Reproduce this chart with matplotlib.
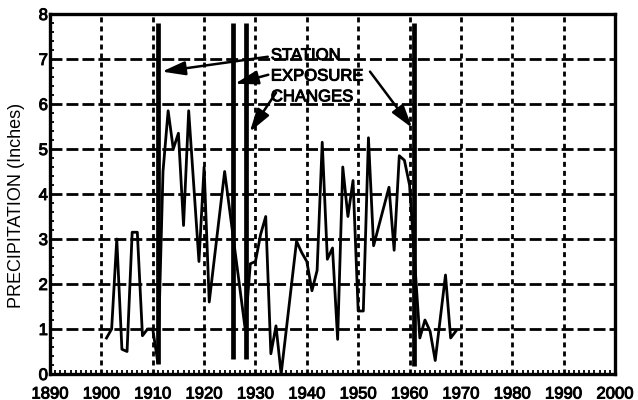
import matplotlib
matplotlib.use("Agg")
import matplotlib.pyplot as plt
import matplotlib.patheffects as pe
from matplotlib.ticker import MultipleLocator

plt.rcParams["font.family"] = ["Liberation Sans", "DejaVu Sans"]
plt.rcParams["lines.scale_dashes"] = False

# Annual precipitation record (inches)
years = [1901, 1902, 1903, 1904, 1905, 1906, 1907, 1908, 1909, 1910,
         1911, 1912, 1913, 1914, 1915, 1916, 1917, 1919, 1920, 1921,
         1924, 1928, 1929, 1930, 1931, 1932, 1933, 1934, 1935, 1938,
         1939, 1940, 1941, 1942, 1943, 1944, 1945, 1946, 1947, 1948,
         1949, 1950, 1951, 1952, 1953, 1956, 1957, 1958, 1959, 1960,
         1962, 1963, 1964, 1965, 1967, 1968, 1969]
precip = [0.8, 1.0, 3.0, 0.55, 0.5, 3.15, 3.15, 0.85, 1.0, 1.0,
          0.25, 4.5, 5.85, 5.0, 5.35, 3.3, 5.85, 2.5, 4.6, 1.6,
          4.5, 1.0, 2.45, 2.5, 3.1, 3.5, 0.45, 1.07, 0.0, 2.95,
          2.7, 2.5, 1.85, 2.3, 5.15, 2.55, 2.8, 0.77, 4.6, 3.5,
          4.3, 1.4, 1.4, 5.25, 2.85, 4.15, 2.75, 4.85, 4.75, 4.2,
          0.8, 1.2, 0.95, 0.3, 2.2, 0.8, 0.95]

# Station exposure changes
change_years = [1911.1, 1925.6, 1928.2, 1960.8]
change_bottoms = [0.22, 0.33, 0.33, 0.18]
change_top = 7.8

label_lines = ["STATION", "EXPOSURE", "CHANGES"]
arrow_tails = [(1932.4, 7.05), (1932.5, 6.65), (1934.0, 6.25), (1952.3, 6.72)]
arrow_tips = [(1911.8, 6.72), (1926.0, 6.45), (1928.9, 5.38), (1960.5, 5.47)]

x_ticks = list(range(1890, 2001, 10))
y_ticks = list(range(0, 9))

ink = [pe.withStroke(linewidth=0.7, foreground="black")]

fig = plt.figure(figsize=(6.38, 4.0), dpi=100)
ax = fig.add_axes([50 / 638, 26 / 400, 565 / 638, 360 / 400])

ax.set_xlim(1890, 2000)
ax.set_ylim(0, 8)
ax.set_xticks(x_ticks)
ax.set_yticks(y_ticks)
ax.xaxis.set_minor_locator(MultipleLocator(1))
ax.yaxis.set_minor_locator(MultipleLocator(0.2))

ax.xaxis.grid(True, color="black", lw=2.0, linestyle=(0, (3.6, 2.9)))
ax.yaxis.grid(True, color="black", lw=2.0, linestyle=(0, (8.6, 2.9)))

ax.plot(years, precip, color="black", lw=2.0)
ax.vlines(change_years, change_bottoms, change_top, color="black", lw=3.4)

for spine in ax.spines.values():
    spine.set_linewidth(2.4)

ax.tick_params(which="both", direction="in", top=False, right=False)
ax.tick_params(which="major", length=0, labelsize=12)
ax.tick_params(axis="x", which="major", pad=9)
ax.tick_params(axis="y", which="major", pad=1.5)
ax.tick_params(which="minor", length=3, width=1.3)
for lbl in ax.get_xticklabels() + ax.get_yticklabels():
    lbl.set_path_effects(ink)

ax.set_ylabel("PRECIPITATION (Inches)", fontsize=13)
ax.yaxis.set_label_coords(-0.044, 0.469)

for i, line in enumerate(label_lines):
    ax.text(1933.0, 6.98 - 0.46 * i, line, fontsize=12, ha="left",
            va="baseline", path_effects=ink)

for tail, tip in zip(arrow_tails, arrow_tips):
    ax.annotate("", xy=tip, xytext=tail,
                arrowprops=dict(arrowstyle="-|>,head_length=1.0,head_width=0.3",
                                mutation_scale=14, color="black", lw=1.8,
                                shrinkA=0, shrinkB=0))

fig.savefig("out.png", dpi=100)
